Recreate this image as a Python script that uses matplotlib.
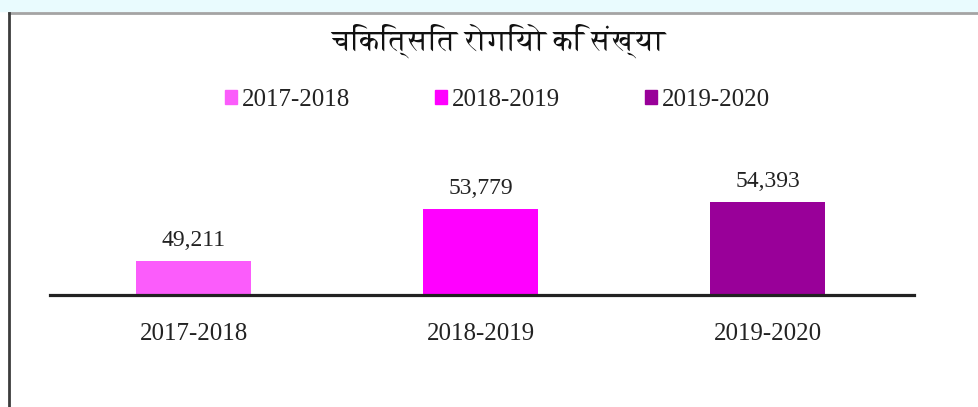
import matplotlib
matplotlib.use("Agg")
import matplotlib.pyplot as plt
from matplotlib import font_manager
from matplotlib.ft2font import FT2Font
from matplotlib.patches import Patch, Rectangle
from matplotlib.lines import Line2D

# data
years = ["2017-2018", "2018-2019", "2019-2020"]
patients = [49211, 53779, 54393]
colors = ["#fb5cfb", "#ff00ff", "#990099"]
title = "चिकित्सित रोगियो कि संख्या"


def devanagari_font():
    # look for any installed font that has devanagari glyphs
    names = []
    for f in font_manager.fontManager.ttflist:
        try:
            if 0x0915 in FT2Font(f.fname).get_charmap():
                names.append(f.name)
        except Exception:
            pass
    for n in names:
        if "Serif" in n:
            return n
    if names:
        return names[0]
    return "DejaVu Sans"


serif = ["Liberation Serif", "DejaVu Serif"]

fig = plt.figure(figsize=(9.79, 4.07), dpi=100)
W, H = 979, 407

# light blue strip and frame lines
fig.patches.append(Rectangle((0, 1 - 11 / H), 1, 11 / H, transform=fig.transFigure,
                             color="#e9fbfe", zorder=0))
fig.add_artist(Line2D([9 / W, 1], [1 - 13 / H, 1 - 13 / H], transform=fig.transFigure,
                      color="#a4a4a4", lw=2))
fig.add_artist(Line2D([9 / W, 9 / W], [0, 1 - 13 / H], transform=fig.transFigure,
                      color="#3c3c3c", lw=2))

ax = fig.add_axes([50 / W, 1 - 295 / H, (914 - 50) / W, (295 - 170) / H])
x = range(len(years))
bars = ax.bar(x, patients, width=0.4, color=colors)
ax.set_xlim(-0.5, 2.51)
ax.set_ylim(46230, 57200)

for b, v in zip(bars, patients):
    ax.annotate(f"{v:,}", (b.get_x() + b.get_width() / 2, v), xytext=(0, 7),
                textcoords="offset points", ha="center", va="bottom",
                fontsize=17, family=serif, color="#222222")

for s in ["top", "left", "right"]:
    ax.spines[s].set_visible(False)
ax.spines["bottom"].set_linewidth(2.3)
ax.spines["bottom"].set_color("#222222")
ax.set_yticks([])
ax.set_xticks(list(x))
ax.set_xticklabels(years, fontsize=18, family=serif, color="#222222")
ax.tick_params(axis="x", length=0, pad=20)

fig.text(0.509, 1 - 41 / H, title, ha="center", va="center", fontsize=21,
         family=[devanagari_font(), "DejaVu Sans"], color="#111111")

handles = [Patch(color=c, label=y) for c, y in zip(colors, years)]
leg = fig.legend(handles=handles, loc="center", bbox_to_anchor=(0.508, 1 - 100 / H),
                 ncol=3, frameon=False, prop={"family": serif, "size": 18},
                 handlelength=0.48, handleheight=0.48, handletextpad=0.2,
                 columnspacing=3.4)
for t in leg.get_texts():
    t.set_color("#222222")

fig.savefig("out.png", dpi=100)
